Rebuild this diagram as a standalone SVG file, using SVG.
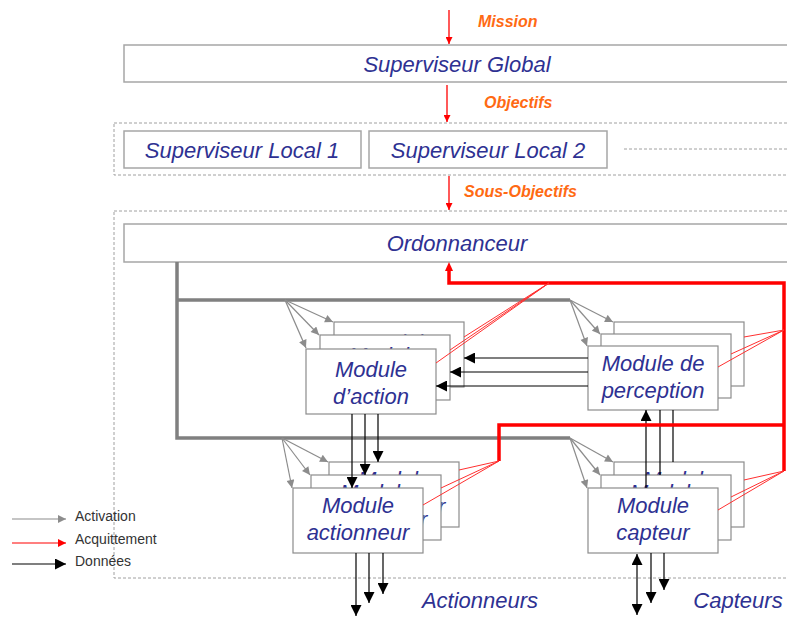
<svg xmlns="http://www.w3.org/2000/svg" width="787" height="617" viewBox="0 0 787 617">
<style>
  .bg{fill:#fff}
  .sup{fill:#fff;stroke:#a6a6a6;stroke-width:1.5}
  .mod{fill:#fff;stroke:#8c8c8c;stroke-width:1.2}
  .dash{fill:none;stroke:#a0a0a0;stroke-width:1;stroke-dasharray:3,2}
  .t{font-family:"Liberation Sans",Arial,sans-serif;font-style:italic;font-size:22px;fill:#2e3192;text-anchor:middle}
  .lab{font-family:"Liberation Sans",Arial,sans-serif;font-style:italic;font-weight:bold;font-size:16px;fill:#ff6a13}
  .leg{font-family:"Liberation Sans",Arial,sans-serif;font-size:14px;fill:#333}
  .act{fill:none;stroke:#8c8c8c;stroke-width:1.2;marker-end:url(#ag)}
  .bus{fill:none;stroke:#808080;stroke-width:3.5}
  .dat{fill:none;stroke:#000;stroke-width:1.2}
  .red{fill:none;stroke:#ff0000;stroke-width:3.5}
  .redt{fill:none;stroke:#ff3030;stroke-width:1}
  .redm{fill:none;stroke:#ff0000;stroke-width:1.3;marker-end:url(#ar)}
</style>
<defs>
  <marker id="ag" viewBox="0 0 10 10" refX="10" refY="5" markerWidth="9" markerHeight="8" markerUnits="userSpaceOnUse" orient="auto"><path d="M0,0 L10,5 L0,10 z" fill="#8c8c8c"/></marker>
  <marker id="ab" viewBox="0 0 10 10" refX="10" refY="5" markerWidth="11" markerHeight="11" markerUnits="userSpaceOnUse" orient="auto-start-reverse"><path d="M0,0 L10,5 L0,10 z" fill="#000"/></marker>
  <marker id="ar" viewBox="0 0 10 10" refX="10" refY="5" markerWidth="10" markerHeight="7" markerUnits="userSpaceOnUse" orient="auto"><path d="M0,0 L10,5 L0,10 z" fill="#ff0000"/></marker>
  <marker id="arl" viewBox="0 0 10 10" refX="10" refY="5" markerWidth="9" markerHeight="8" markerUnits="userSpaceOnUse" orient="auto"><path d="M0,0 L10,5 L0,10 z" fill="#ff0000"/></marker>
</defs>
<rect class="bg" x="0" y="0" width="787" height="617"/>

<g id="frames">
  <rect class="dash" x="114" y="123" width="700" height="52"/>
  <line class="dash" x1="624" y1="149" x2="787" y2="149"/>
  <rect class="dash" x="114" y="211" width="700" height="367"/>
</g>

<g id="superviseur-global">
  <rect class="sup" x="124" y="45" width="700" height="37"/>
  <text class="t" x="457" y="72">Superviseur Global</text>
</g>
<g id="superviseur-local-1">
  <rect class="sup" x="124" y="131" width="237" height="37"/>
  <text class="t" x="242" y="158">Superviseur Local 1</text>
</g>
<g id="superviseur-local-2">
  <rect class="sup" x="369" y="131" width="238" height="37"/>
  <text class="t" x="488" y="158">Superviseur Local 2</text>
</g>
<g id="ordonnanceur">
  <rect class="sup" x="124" y="224" width="700" height="38"/>
  <text class="t" x="457" y="251">Ordonnanceur</text>
</g>

<g id="module-action">
  <rect class="mod" x="334" y="322" width="130" height="65"/>
  <text class="t" x="399" y="350">Module</text><text class="t" x="399" y="377">d’action</text>
  <rect class="mod" x="320" y="335" width="130" height="65"/>
  <text class="t" x="385" y="363">Module</text><text class="t" x="385" y="390">d’action</text>
  <rect class="mod" x="306" y="349" width="130" height="65"/>
  <text class="t" x="371" y="377">Module</text><text class="t" x="371" y="404">d’action</text>
</g>

<g id="module-perception">
  <rect class="mod" x="614" y="322" width="130" height="64"/>
  <text class="t" x="679" y="352">Module de</text><text class="t" x="679" y="379">perception</text>
  <rect class="mod" x="601" y="334" width="130" height="64"/>
  <text class="t" x="666" y="364">Module de</text><text class="t" x="666" y="391">perception</text>
  <rect class="mod" x="588" y="346" width="130" height="64"/>
  <text class="t" x="653" y="371">Module de</text><text class="t" x="653" y="398">perception</text>
</g>

<g id="module-actionneur">
  <rect class="mod" x="329" y="462" width="130" height="65"/>
  <text class="t" x="394" y="487">Module</text><text class="t" x="394" y="514">actionneur</text>
  <rect class="mod" x="311" y="475" width="130" height="65"/>
  <text class="t" x="376" y="500">Module</text><text class="t" x="376" y="527">actionneur</text>
  <rect class="mod" x="293" y="488" width="130" height="65"/>
  <text class="t" x="358" y="513">Module</text><text class="t" x="358" y="540">actionneur</text>
</g>

<g id="module-capteur">
  <rect class="mod" x="614" y="462" width="130" height="65"/>
  <text class="t" x="679" y="487">Module</text><text class="t" x="679" y="514">capteur</text>
  <rect class="mod" x="601" y="475" width="130" height="65"/>
  <text class="t" x="666" y="500">Module</text><text class="t" x="666" y="527">capteur</text>
  <rect class="mod" x="588" y="488" width="130" height="65"/>
  <text class="t" x="653" y="513">Module</text><text class="t" x="653" y="540">capteur</text>
</g>

<g id="actionneurs-label"><text class="t" x="480" y="608">Actionneurs</text></g>
<g id="capteurs-label"><text class="t" x="738" y="608">Capteurs</text></g>

<g id="connectors">
  <line class="redm" x1="449" y1="10" x2="449" y2="44"/>
  <text class="lab" x="478" y="27">Mission</text>
  <line class="redm" x1="447" y1="85" x2="447" y2="122"/>
  <text class="lab" x="484" y="108">Objectifs</text>
  <line class="redm" x1="449" y1="176" x2="449" y2="210"/>
  <text class="lab" x="464" y="197">Sous-Objectifs</text>

  <path class="bus" d="M177,262 L177,438 L570,438 M177,300 L570,300"/>

  <path class="act" d="M285,300 L333,322"/>
  <path class="act" d="M285,300 L319,335"/>
  <path class="act" d="M285,300 L306,348"/>
  <path class="act" d="M570,300 L613,322"/>
  <path class="act" d="M570,300 L600,334"/>
  <path class="act" d="M570,300 L587,346"/>
  <path class="act" d="M282,438 L328,462"/>
  <path class="act" d="M282,438 L310,475"/>
  <path class="act" d="M282,438 L292,488"/>
  <path class="act" d="M570,438 L613,462"/>
  <path class="act" d="M570,438 L600,475"/>
  <path class="act" d="M570,438 L587,488"/>

  <path class="dat" marker-end="url(#ab)" d="M588,358 L464,358"/>
  <path class="dat" marker-end="url(#ab)" d="M588,372 L450,372"/>
  <path class="dat" marker-end="url(#ab)" d="M588,386 L436,386"/>
  <path class="dat" marker-end="url(#ab)" d="M352,414 L352,488"/>
  <path class="dat" marker-end="url(#ab)" d="M365,414 L365,475"/>
  <path class="dat" marker-end="url(#ab)" d="M378,414 L378,462"/>
  <path class="dat" marker-end="url(#ab)" d="M356,553 L356,616"/>
  <path class="dat" marker-end="url(#ab)" d="M369,553 L369,603"/>
  <path class="dat" marker-end="url(#ab)" d="M383,553 L383,594"/>
  <path class="dat" marker-end="url(#ab)" d="M646,488 L646,410"/>
  <path class="dat" d="M660,410 L660,475"/>
  <path class="dat" d="M673,410 L673,462"/>
  <path class="dat" marker-start="url(#ab)" marker-end="url(#ab)" d="M637,554 L637,615"/>
  <path class="dat" marker-end="url(#ab)" d="M651,553 L651,603"/>
  <path class="dat" marker-end="url(#ab)" d="M664,553 L664,590"/>

  <path class="red" d="M449,270 L449,283 L784,283 L784,471 M784,425 L499,425 L499,461"/>
  <path fill="#ff0000" d="M449,262 L453,271 L445,271 z"/>
  <path class="redt" d="M549,283 L464,337 M549,283 L450,350 M549,283 L436,363"/>
  <path class="redt" d="M784,330 L744,337 M784,330 L731,354 M784,330 L718,367"/>
  <path class="redt" d="M499,461 L459,470 M499,461 L441,488 M499,461 L423,505"/>
  <path class="redt" d="M784,471 L744,480 M784,471 L731,497 M784,471 L718,510"/>
</g>

<g id="legend">
  <line stroke="#8c8c8c" stroke-width="1.2" marker-end="url(#ag)" x1="12" y1="519" x2="66" y2="519"/>
  <line stroke="#ff0000" stroke-width="1.2" marker-end="url(#arl)" x1="12" y1="543" x2="66" y2="543"/>
  <line stroke="#000" stroke-width="1.2" marker-end="url(#ab)" x1="12" y1="564" x2="66" y2="564"/>
  <text class="leg" x="75" y="521">Activation</text>
  <text class="leg" x="75" y="544">Acquittement</text>
  <text class="leg" x="75" y="566">Données</text>
</g>
</svg>
